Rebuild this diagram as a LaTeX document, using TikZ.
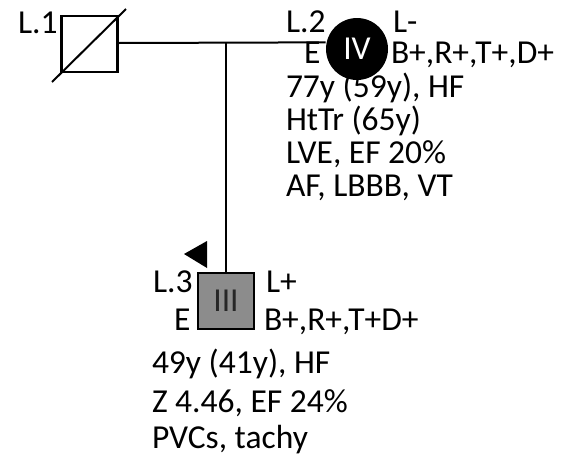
\documentclass[tikz,border=0pt]{standalone}
\usepackage{fontspec}
\setmainfont{Carlito}
\usepackage{tikz}
\usetikzlibrary{arrows.meta}

\tikzset{
    sqr/.style={draw, line width=2.2pt, minimum size=56pt, inner sep=0pt},
    circ/.style={circle, fill=black, minimum size=62pt, inner sep=0pt},
    lbl/.style={anchor=base west, inner sep=0pt, font=\fontsize{33.5}{30}\selectfont}
}

\begin{document}
\begin{tikzpicture}[x=1pt, y=-1pt, line width=2pt]

\useasboundingbox (0,0) rectangle (571,461);

% Individuos
\node[sqr] (l1) at (89.5,44) {};
\node[circ] (l2) at (357,49) {};
\node[sqr, fill=black!45] (l3) at (226,301) {};
\node[text=white, font=\fontsize{33.5}{30}\selectfont] (l2t) at (l2) {IV};
\node[text=black!85, font=\fontsize{33.5}{30}\selectfont] (l3t) at (l3) {III};

% Fallecido
\coordinate (d1) at (52,82);
\coordinate (d2) at (126,9);
\draw (d1) -- (d2);

% Lineas de parentesco
\draw (l1.east |- 0,43) -- (l2.168) coordinate (mate);
\coordinate (sib) at (226,43);
\draw (sib) -- (l3.north);

% Probando
\coordinate (p1) at (184,254);
\coordinate (p2) at (207,241);
\coordinate (p3) at (207,268);
\fill (p1) -- (p2) -- (p3) -- cycle;

% Etiquetas
\node[lbl] (n1) at (17,33) {L.1};
\node[lbl] (n2) at (285,32) {L.2};
\node[lbl] (n2a) at (392,32) {L-};
\node[lbl] (n2e) at (303,63) {E};
\node[lbl] (n2b) at (390,63) {B+,R+,T+,D+};
\foreach \t [count=\i] in {{77y (59y), HF},{HtTr (65y)},{LVE, EF 20\%},{AF, LBBB, VT}}{
    \node[lbl] (iv\i) at (285,{97+33.3*(\i-1)}) {\t};
}
\node[lbl] (n3) at (152,292) {L.3};
\node[lbl] (n3a) at (265,292) {L+};
\node[lbl] (n3e) at (173,330) {E};
\node[lbl] (n3b) at (263,330) {B+,R+,T+D+};
\node[lbl] (iii1) at (151,373) {49y (41y), HF};
\node[lbl] (iii2) at (151,412) {Z 4.46, EF 24\%};
\node[lbl] (iii3) at (151,448) {PVCs, tachy};

\end{tikzpicture}
\end{document}
